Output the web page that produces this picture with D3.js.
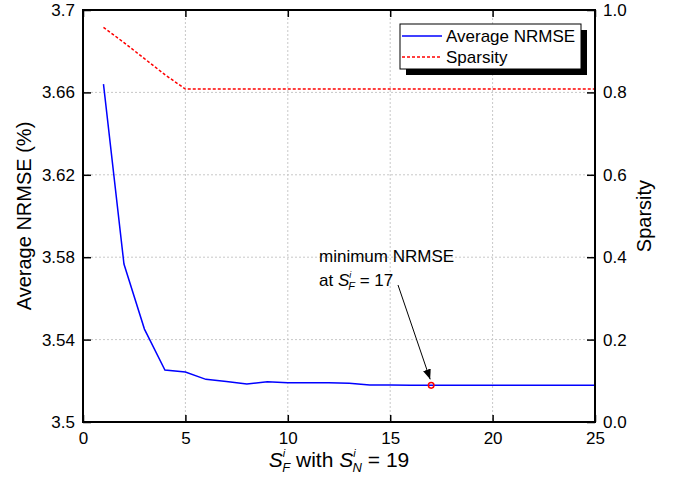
<!DOCTYPE html>
<html>
  <head>
    <meta http-equiv="Content-Type" content="text/html;charset=utf-8"/>
    <title>NRMSE vs S_F</title>
    <script src="https://d3js.org/d3.v7.min.js"></script>
    <style>
      body { margin: 0; background: #fff; }
      text { font-family: "Liberation Sans", Arial, Helvetica, sans-serif; fill: #000; }
    </style>
  </head>
  <body>
    <script type="text/javascript">
      // values
      const sF = [1, 2, 3, 4, 5, 6, 7, 8, 9, 10, 11, 12, 13, 14, 15, 16, 17, 18, 19, 20, 21, 22, 23, 24, 25]
      const nrmse = [3.664, 3.5767, 3.5451, 3.5252, 3.5243, 3.5207, 3.5197, 3.5184, 3.5195, 3.5190, 3.5190, 3.5190, 3.5188,
                     3.5180, 3.5180, 3.5179, 3.5178, 3.5178, 3.5178, 3.5178, 3.5178, 3.5178, 3.5178, 3.5178, 3.5178]
      const sparsity = [0.958, 0.921, 0.882, 0.843, 0.808, 0.808, 0.808, 0.808, 0.808, 0.808, 0.808, 0.808, 0.808,
                        0.808, 0.808, 0.808, 0.808, 0.808, 0.808, 0.808, 0.808, 0.808, 0.808, 0.808, 0.808]
      const xTicks = [0, 5, 10, 15, 20, 25]
      const yLeftTicks = [3.5, 3.54, 3.58, 3.62, 3.66, 3.7]
      const yRightTicks = [0, 0.2, 0.4, 0.6, 0.8, 1.0]
      const minAt = 17

      const width = 674, height = 481
      const m = {left: 83, right: 79, top: 10, bottom: 59}
      const pw = width - m.left - m.right, ph = height - m.top - m.bottom

      const svg = d3.select("body").append("svg")
        .attr("width", width)
        .attr("height", height)

      const x = d3.scaleLinear().domain([0, 25]).range([m.left, m.left + pw])
      const yL = d3.scaleLinear().domain([3.5, 3.7]).range([m.top + ph, m.top])
      const yR = d3.scaleLinear().domain([0, 1]).range([m.top + ph, m.top])

      // grid
      const grid = svg.append("g")
        .attr("stroke", "#c8c8c8")
        .attr("stroke-width", 1)
        .attr("stroke-dasharray", "2,2")
      grid.selectAll("line.v").data(xTicks.slice(1, -1)).enter().append("line")
        .attr("x1", d => x(d)).attr("x2", d => x(d))
        .attr("y1", m.top).attr("y2", m.top + ph)
      grid.selectAll("line.h").data(yLeftTicks.slice(1, -1)).enter().append("line")
        .attr("x1", m.left).attr("x2", m.left + pw)
        .attr("y1", d => yL(d)).attr("y2", d => yL(d))

      // lines
      const sparseLine = d3.line().x((d, i) => x(sF[i])).y(d => yR(d))
      svg.append("path").datum(sparsity)
        .attr("d", sparseLine)
        .attr("fill", "none")
        .attr("stroke", "#ff0000")
        .attr("stroke-width", 1.5)
        .attr("stroke-dasharray", "3,2")

      const errLine = d3.line().x((d, i) => x(sF[i])).y(d => yL(d))
      svg.append("path").datum(nrmse)
        .attr("d", errLine)
        .attr("fill", "none")
        .attr("stroke", "#0000ff")
        .attr("stroke-width", 1.5)

      // min marker
      const minVal = nrmse[sF.indexOf(minAt)]
      svg.append("circle")
        .attr("cx", x(minAt)).attr("cy", yL(minVal)).attr("r", 2.8)
        .attr("fill", "none").attr("stroke", "#ff0000").attr("stroke-width", 1.5)

      // axes (ticks inward)
      const tickFont = g => g.selectAll("text")
        .style("font-size", "17px")
        .style("font-family", "'Liberation Sans', Arial, sans-serif")
        .attr("fill", "#000")

      const axB = svg.append("g").attr("transform", `translate(0,${m.top + ph})`)
        .call(d3.axisBottom(x).tickValues(xTicks).tickFormat(d3.format("d")).tickSizeInner(-7).tickSizeOuter(0).tickPadding(10))
      axB.call(tickFont)
      const axT = svg.append("g").attr("transform", `translate(0,${m.top})`)
        .call(d3.axisTop(x).tickValues(xTicks).tickFormat("").tickSizeInner(-7).tickSizeOuter(0))
      const axL = svg.append("g").attr("transform", `translate(${m.left},0)`)
        .call(d3.axisLeft(yL).tickValues(yLeftTicks).tickFormat(d => d3.format("")(+d.toFixed(2))).tickSizeInner(-8).tickSizeOuter(0).tickPadding(8))
      axL.call(tickFont)
      const axR = svg.append("g").attr("transform", `translate(${m.left + pw},0)`)
        .call(d3.axisRight(yR).tickValues(yRightTicks).tickFormat(d3.format(".1f")).tickSizeInner(-8).tickSizeOuter(0).tickPadding(8))
      axR.call(tickFont)
      ;[axB, axT, axL, axR].forEach(a => {
        a.select(".domain").remove()
        a.selectAll(".tick line").attr("stroke", "#000").attr("stroke-width", 1.5)
      })

      // frame
      svg.append("rect")
        .attr("x", m.left).attr("y", m.top).attr("width", pw).attr("height", ph)
        .attr("fill", "none").attr("stroke", "#000").attr("stroke-width", 2)

      // axis titles
      svg.append("text")
        .attr("transform", `translate(31,${m.top + ph / 2}) rotate(-90)`)
        .attr("text-anchor", "middle")
        .style("font-size", "20px")
        .text("Average NRMSE (%)")
      svg.append("text")
        .attr("transform", `translate(651,${m.top + ph / 2}) rotate(-90)`)
        .attr("text-anchor", "middle")
        .style("font-size", "20px")
        .text("Sparsity")

      const xl = svg.append("text")
        .attr("x", m.left + pw / 2 + 0).attr("y", 467)
        .attr("text-anchor", "middle")
        .style("font-size", "21px")
      xl.append("tspan").style("font-style", "italic").text("S")
      xl.append("tspan").style("font-style", "italic").style("font-size", "11px").attr("dy", -10).text("i")
      xl.append("tspan").style("font-style", "italic").style("font-size", "13px").attr("dx", -3).attr("dy", 15).text("F")
      xl.append("tspan").attr("dy", -5).text(" with ")
      xl.append("tspan").style("font-style", "italic").text("S")
      xl.append("tspan").style("font-style", "italic").style("font-size", "11px").attr("dy", -10).text("i")
      xl.append("tspan").style("font-style", "italic").style("font-size", "13px").attr("dx", -3).attr("dy", 15).text("N")
      xl.append("tspan").attr("dy", -5).text(" = 19")

      // legend
      const lg = svg.append("g").attr("transform", "translate(400,24)")
      lg.append("rect").attr("x", 6).attr("y", 6).attr("width", 181).attr("height", 45).attr("fill", "#000")
      lg.append("rect").attr("x", 0).attr("y", 0).attr("width", 181).attr("height", 45)
        .attr("fill", "#fff").attr("stroke", "#000").attr("stroke-width", 1)
      lg.append("line").attr("x1", 2).attr("x2", 42).attr("y1", 12).attr("y2", 12)
        .attr("stroke", "#0000ff").attr("stroke-width", 1.5)
      lg.append("line").attr("x1", 2).attr("x2", 42).attr("y1", 33).attr("y2", 33)
        .attr("stroke", "#ff0000").attr("stroke-width", 1.5).attr("stroke-dasharray", "3,2")
      lg.append("text").attr("x", 46).attr("y", 18).style("font-size", "17px").text("Average NRMSE")
      lg.append("text").attr("x", 46).attr("y", 39).style("font-size", "17px").text("Sparsity")

      // annotation
      const ann = svg.append("g")
      ann.append("text").attr("x", 319).attr("y", 262).style("font-size", "17px").text("minimum NRMSE")
      const at = ann.append("text").attr("x", 319).attr("y", 286).style("font-size", "17px")
      at.append("tspan").text("at ")
      at.append("tspan").style("font-style", "italic").text("S")
      at.append("tspan").style("font-style", "italic").style("font-size", "9px").attr("dy", -8).text("i")
      at.append("tspan").style("font-style", "italic").style("font-size", "11px").attr("dx", -3).attr("dy", 12).text("F")
      at.append("tspan").attr("dy", -4).text(" = " + minAt)

      svg.append("defs").append("marker")
        .attr("id", "arrow").attr("viewBox", "0 0 10 10")
        .attr("refX", 10).attr("refY", 5)
        .attr("markerWidth", 10).attr("markerHeight", 10)
        .attr("markerUnits", "userSpaceOnUse")
        .attr("orient", "auto")
        .append("path").attr("d", "M0,1 L10,5 L0,9 Z").attr("fill", "#000")
      ann.append("line")
        .attr("x1", 398).attr("y1", 285)
        .attr("x2", x(minAt) - 1).attr("y2", yL(minVal) - 6)
        .attr("stroke", "#000").attr("stroke-width", 1)
        .attr("marker-end", "url(#arrow)")
    </script>
  </body>
</html>
